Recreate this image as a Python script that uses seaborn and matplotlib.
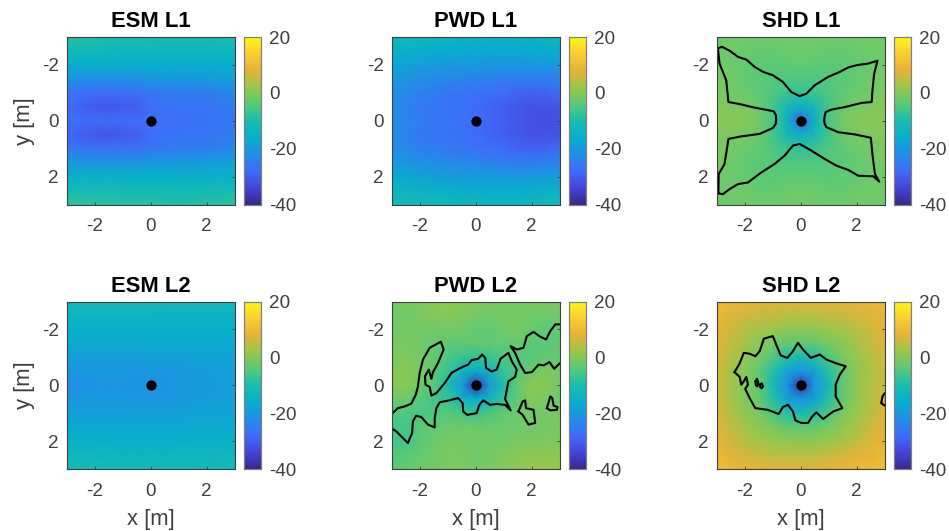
import matplotlib
matplotlib.use("Agg")
import matplotlib.pyplot as plt
import numpy as np
import seaborn as sns

# grid runs -3..3 m in 0.5 m steps, rows are y from -3 (top) to 3 (bottom)
grid_x = [-3, -2.5, -2, -1.5, -1, -0.5, 0, 0.5, 1, 1.5, 2, 2.5, 3]

esm_l1 = [
    [-9, -9, -9.5, -10, -10, -10, -10.5, -11, -11, -11, -11, -10.5, -10],
    [-12, -12, -12, -12.5, -13, -13, -13, -13, -13, -13, -13, -13, -13],
    [-16, -16, -16, -16, -16, -16, -16, -16, -16, -16, -16, -16, -16],
    [-21, -21.5, -21.5, -21.5, -21.5, -21, -20.5, -20, -20, -20, -19.5, -19, -19],
    [-26, -27, -28, -28, -27.5, -27, -26, -25.5, -25, -25, -25, -24, -23],
    [-28, -29.5, -30.5, -31, -30.5, -30, -28, -27, -26.5, -26.5, -26.5, -26, -25],
    [-27, -27.5, -27.5, -27.5, -27.5, -27.5, -27.5, -27.5, -27, -26.5, -26.5, -26, -26],
    [-28.5, -30, -31, -31.5, -30.5, -30, -28, -27, -26.5, -26.5, -26.5, -26, -25],
    [-25, -26, -27, -27, -27, -27, -26, -25.5, -25, -25, -24.5, -24, -23],
    [-20, -20.5, -20.5, -20.5, -20.5, -20.5, -20, -20, -19.5, -19.5, -19, -19, -19],
    [-15, -15, -15, -15, -15, -15.5, -15.5, -15.5, -15, -15, -15, -15, -15],
    [-11, -11, -11, -11, -11, -11.5, -11.5, -11.5, -11.5, -11.5, -11, -11, -11],
    [-8, -8, -8.5, -8.5, -9, -9, -9, -9.5, -9.5, -9.5, -9, -9, -8.5],
]

pwd_l1 = [
    [-12, -12.5, -13, -13, -13.5, -14, -14, -14, -14, -14, -14, -13.5, -13],
    [-14.5, -15, -15.5, -16, -16, -16.5, -17, -17, -17, -17, -16.5, -16, -16],
    [-18, -18, -19, -19, -20, -20, -20, -20.5, -20.5, -20.5, -20, -20, -19.5],
    [-20, -21, -22, -22.5, -23, -23.5, -24, -24, -24.5, -25, -25, -25, -24],
    [-22, -23, -24.5, -25, -26, -26.5, -27, -27.5, -28, -29, -29.5, -29, -28],
    [-22.5, -24, -25.5, -26, -26.5, -27, -28, -29, -30, -31, -32, -32, -31.5],
    [-22, -23.5, -25, -25.5, -26, -27, -28, -28.5, -29.5, -31, -32, -32.5, -32],
    [-22.5, -24, -25.5, -26, -26.5, -27, -28, -29, -30, -31, -32, -32, -31.5],
    [-22, -23, -24.5, -25, -25.5, -26, -27, -27.5, -28, -29, -29.5, -29, -28],
    [-20, -20.5, -21.5, -22, -23, -23, -23.5, -24, -24.5, -25, -25, -24.5, -24],
    [-17, -17, -18, -18.5, -19, -19.5, -20, -20, -20, -20, -19.5, -19, -19],
    [-13, -13.5, -14, -15, -15, -15.5, -16, -16, -16, -16, -15.5, -15, -15],
    [-11, -11.5, -12, -12, -12, -12.5, -13, -13, -13, -13, -12.5, -12, -12],
]

shd_l1 = [
    [-2, -2, -2, -2, -2, -2, -2, -2, -2, -2, -2, -2, -2],
    [-2, -2, -2.5, -3, -3, -2.5, -2, -2.5, -3, -3, -2.5, -2, -2],
    [-2, -2.5, -3, -3.5, -4, -3.5, -3, -3.5, -4, -3.5, -3, -2.5, -2],
    [-1, -2, -3, -4, -4.5, -5, -5, -5, -4.5, -4, -3, -2, -1],
    [-0.5, -1.5, -2.5, -3.5, -5, -6.5, -8, -6.5, -5, -3.5, -2.5, -1.5, -0.5],
    [0, -0.5, -1, -2.5, -6, -12, -14, -12, -6, -2.5, -1, -0.5, 0],
    [0.5, 0.5, 0, -1.5, -5.5, -14, -30, -14, -5.5, -1.5, 0, 0.5, 0.5],
    [0, -0.5, -1, -2.5, -6, -12, -14, -12, -6, -2.5, -1, -0.5, 0],
    [-0.5, -1.5, -2.5, -3.5, -5, -6.5, -8, -6.5, -5, -3.5, -2.5, -1.5, -0.5],
    [-1, -2, -3, -4, -4.5, -5, -5, -5, -4.5, -4, -3, -2, -1],
    [-2, -2.5, -3, -3.5, -4, -3.5, -3, -3.5, -4, -3.5, -3, -2.5, -2],
    [-2, -2, -2.5, -3, -3, -2.5, -2, -2.5, -3, -3, -2.5, -2, -2],
    [-2, -2, -2, -2, -2, -2, -2, -2, -2, -2, -2, -2, -2],
]

esm_l2 = [
    [-11.5, -11.5, -12, -12, -12, -12, -12, -12, -12, -12, -12, -12, -12],
    [-13.5, -13.5, -13.5, -13.5, -13.5, -13.5, -13.5, -14, -14, -14, -14, -14, -14],
    [-15.5, -15.5, -15.5, -15.5, -15.5, -15.5, -15.5, -15.5, -15.5, -15.5, -15.5, -15.5, -15.5],
    [-17, -17, -17, -17, -17, -17, -17, -17, -17, -17, -17, -17, -17],
    [-18.5, -19, -19, -19, -19, -19, -18.5, -18.5, -18.5, -18, -18, -18, -18],
    [-20.5, -20, -20, -20, -20, -20.5, -20.5, -20.5, -20, -19.5, -19, -19, -19],
    [-23, -21.5, -21, -21, -21, -21, -21, -21, -20.5, -20, -19.5, -19, -19],
    [-20.5, -20, -20, -20, -20, -20.5, -20.5, -20.5, -20, -19.5, -19, -19, -19],
    [-18.5, -19, -19, -19, -19, -19, -18.5, -18.5, -18.5, -18, -18, -18, -18],
    [-17, -17, -17, -17, -17, -17, -17, -17, -17, -17, -17, -17, -17],
    [-15, -15, -15, -15.5, -15.5, -15.5, -15.5, -15.5, -15.5, -15, -15, -15, -15],
    [-13, -13, -13, -13.5, -13.5, -13.5, -13.5, -13.5, -13.5, -13.5, -13.5, -13, -13],
    [-11, -11, -11.5, -11.5, -11.5, -11.5, -11.5, -11.5, -12, -12, -12, -11.5, -11.5],
]

pwd_l2 = [
    [-1, -1, -0.5, 0.5, 1.5, 0.5, -0.5, -1, -1, -1, -1, -1, -1],
    [-2, -2, -1, 0, 0, -0.5, -1.5, -2, -1.5, -1.5, -2, -2, -2],
    [-2, -1.5, -1.5, -2, -1.5, -2, -3, -3, -2, -1, -3, -3.5, -3],
    [-1, -1, -2, -3, -3.5, -3.5, -3, -3, -3, -3, -4, -4, -3.5],
    [-0.5, -0.5, -1.5, -3, -5, -7, -8, -7, -5, -5, -4, -3.5, -3],
    [0, 0.5, -1, -4, -7, -13, -16, -13, -7, -5, -2, -1, -1.5],
    [0.5, 0.5, -2, -4.5, -10, -20, -38, -20, -10, -3, 1, 0, -1.5],
    [-2, -2.5, -4.5, -6, -7.5, -13, -16, -13, -7, -3, 0, -1, -2],
    [-5, -5, -5.5, -5, -4, -6, -7, -5, -3.5, -2.5, -1.5, -1.5, -1.5],
    [-6, -6, -4, -3.5, -2.5, -2, -2, -2.5, -2, -2, -2, -1.5, -1.5],
    [-6, -6, -4, -2.5, -1.5, -1.5, -2, -2, -2, -1, -1, -0.5, -0.5],
    [-5, -4, -3, -2, -1, -1, -2, -1.5, -0.5, 0.5, 1, 1, 1],
    [-4, -3, -2, -1.5, -1, -1, -1.5, -1, 0, 1, 2, 2, 1.5],
]

shd_l2 = [
    [10, 9, 8.5, 8, 7.5, 7.5, 7.5, 7.5, 7.5, 8, 8.5, 9, 9.5],
    [9, 7.5, 6.5, 5.5, 5, 4.5, 4.5, 4.5, 5, 5.5, 6.5, 7.5, 8.5],
    [8, 6, 4, 3, 2, 1, 1, 1, 2, 3, 4.5, 6, 7.5],
    [7.5, 5, 3, 0.5, -1, -3, -3.5, -3, -1, 0.5, 3, 5, 7],
    [7, 4, 1, -1, -5, -9, -11, -9, -5, -1, 1.5, 4, 6.5],
    [6.5, 3, 0, -3, -9, -18, -21, -18, -9, -3, 1, 3.5, 6],
    [6, 3, 0, -3, -11, -21, -38, -21, -11, -3, 1, 4, 6],
    [6.5, 3, 0, -3, -9, -18, -21, -18, -9, -3, 1, 4, 6.5],
    [7, 4, 1, -1, -5, -9, -11, -9, -5, -1, 2, 4.5, 7],
    [7.5, 5, 3, 1, -1, -3, -3.5, -3, -1, 1, 3, 6, 7.5],
    [8.5, 6, 4, 3, 2, 1, 1, 1, 2, 3, 5, 7, 8.5],
    [9.5, 7.5, 6.5, 5.5, 4.5, 4.5, 4.5, 4.5, 5.5, 6.5, 7.5, 8.5, 10],
    [10, 9.5, 8.5, 8, 7.5, 7.5, 7.5, 7.5, 8, 8.5, 9.5, 10, 11],
]

# black contour lines, x and y in metres
shd_l1_lines = [
    ([-2.97, -2.83, -2.55, -2.25, -1.95, -1.65, -1.35, -1.0, -0.64, -0.34, -0.04, 0.2, 0.5, 0.98, 1.4, 1.7, 2.0, 2.42,
      2.75, 2.63, 2.57, 2.54, 2.18, 1.58, 1.1, 0.89, 0.85, 0.84, 0.86, 0.92, 1.34, 1.94, 2.51, 2.58, 2.66, 2.81, 2.6,
      2.06, 1.7, 1.28, 0.86, 0.38, -0.04, -0.28, -0.58, -0.94, -1.41, -1.89, -2.25, -2.55, -2.79, -2.95, -2.94, -2.73,
      -2.59, -2.13, -1.47, -1.0, -0.9, -0.88, -0.89, -0.97, -1.65, -2.25, -2.59, -2.67, -2.91, -2.97],
     [-2.59, -2.65, -2.51, -2.29, -2.19, -1.93, -1.75, -1.63, -1.39, -1.03, -0.88, -0.97, -1.27, -1.57, -1.75, -1.91,
      -1.99, -2.05, -2.15, -1.69, -1.09, -0.67, -0.64, -0.49, -0.4, -0.31, -0.13, 0.01, 0.12, 0.23, 0.41, 0.49, 0.61,
      1.31, 1.91, 2.18, 1.99, 1.97, 1.76, 1.61, 1.37, 1.07, 0.83, 0.89, 1.25, 1.55, 1.85, 2.21, 2.27, 2.45, 2.63, 2.6,
      1.91, 1.55, 0.65, 0.56, 0.47, 0.26, 0.12, -0.01, -0.2, -0.34, -0.47, -0.61, -0.67, -1.45, -2.05, -2.59]),
]

pwd_l2_lines = [
    ([-2.99, -2.79, -2.55, -2.31, -2.15, -2.07, -2.01, -1.89, -1.65, -1.25, -1.15, -1.35, -1.53, -1.59, -1.68, -1.82,
      -1.8, -1.65, -1.59, -1.41, -1.11, -0.87, -0.57, -0.27, -0.15, 0.09, 0.23, 0.34, 0.37, 0.57, 0.75, 0.89, 1.17,
      1.29, 1.47, 1.41, 1.17, 1.09, 1.05, 1.25, 1.05, 0.75, 0.51, 0.27, 0.13, 0.03, -0.31, -0.45, -0.47, -0.63, -0.99,
      -1.29, -1.41, -1.47, -1.47, -1.71, -1.95, -2.13, -2.25, -2.28, -2.43, -2.61, -2.85, -2.99],
     [1.01, 0.82, 0.76, 0.66, 0.34, 0.04, -0.44, -0.92, -1.34, -1.56, -1.28, -0.8, -0.47, -0.23, -0.56, -0.32, -0.02,
      0.06, 0.37, 0.28, -0.08, -0.44, -0.61, -0.74, -0.9, -0.95, -1.1, -0.98, -0.62, -0.49, -0.56, -0.95, -1.16, -0.86,
      -0.56, -0.3, -0.14, 0.28, 0.49, 0.9, 0.7, 0.67, 0.7, 0.54, 0.7, 1.0, 1.06, 0.94, 0.64, 0.46, 0.55, 0.61, 0.82,
      1.18, 1.51, 1.41, 1.14, 1.09, 1.29, 1.71, 2.07, 1.89, 1.65, 1.56]),
    ([3.0, 2.85, 2.67, 2.52, 2.31, 2.07, 1.83, 1.71, 1.47, 1.25, 1.41, 1.59, 1.77, 2.01, 2.25, 2.43, 2.64, 2.81, 3.0],
     [-2.18, -2.18, -1.94, -1.64, -1.74, -1.91, -1.76, -1.34, -1.28, -1.4, -1.16, -0.74, -0.44, -0.47, -0.74, -0.71,
      -0.83, -0.59, -0.78]),
    ([1.53, 1.68, 1.77, 1.8, 2.07, 2.13, 1.89, 1.68, 1.53], [0.94, 0.58, 0.54, 0.82, 0.88, 1.35, 1.41, 1.06, 0.94]),
    ([2.55, 2.67, 2.74, 2.79, 2.93, 2.91, 2.67, 2.55], [0.82, 0.4, 0.46, 0.73, 0.78, 0.88, 0.9, 0.82]),
]

shd_l2_lines = [
    ([-2.37, -2.19, -2.04, -1.83, -1.63, -1.47, -1.32, -1.0, -0.88, -0.72, -0.48, -0.28, -0.1, 0.08, 0.36, 0.68, 0.92,
      1.28, 1.61, 1.4, 1.25, 1.25, 1.49, 1.16, 0.8, 0.56, 0.41, 0.26, 0.02, -0.19, -0.28, -0.46, -0.64, -0.79, -1.18,
      -1.63, -1.83, -1.99, -1.89, -1.95, -2.04, -2.13, -2.19, -2.37],
     [-0.47, -0.78, -1.16, -1.13, -1.04, -1.22, -1.67, -1.76, -1.46, -1.07, -0.98, -1.22, -1.52, -1.28, -0.98, -1.1,
      -0.92, -0.78, -0.68, -0.38, -0.02, 0.4, 0.82, 0.94, 1.21, 0.97, 1.12, 1.35, 1.35, 1.26, 0.94, 0.7, 0.78, 1.03,
      0.88, 0.82, 0.46, 0.13, -0.02, -0.3, -0.14, -0.02, -0.3, -0.47]),
    ([-1.62, -1.57, -1.52, -1.55, -1.61, -1.62], [-0.14, -0.23, -0.11, 0.04, 0.0, -0.14]),
    ([-1.46, -1.4, -1.35, -1.4, -1.45, -1.46], [-0.02, -0.07, 0.04, 0.11, 0.07, -0.02]),
    ([3.0, 2.93, 2.88, 3.0], [0.3, 0.4, 0.64, 0.72]),
]

titles = ["ESM L1", "PWD L1", "SHD L1", "ESM L2", "PWD L2", "SHD L2"]
fields = [esm_l1, pwd_l1, shd_l1, esm_l2, pwd_l2, shd_l2]
lines = [[], [], shd_l1_lines, [], pwd_l2_lines, shd_l2_lines]
ticks = [-2, 0, 2]
cbar_ticks = [-40, -20, 0, 20]
source_x = [0]
source_y = [0]

# parula-like colormap, matched to the reference colorbar
parula = sns.blend_palette(
    [(0.21, 0.16, 0.55), (0.27, 0.27, 0.85), (0.25, 0.42, 0.98), (0.13, 0.56, 0.90),
     (0.03, 0.68, 0.80), (0.10, 0.74, 0.68), (0.35, 0.79, 0.47), (0.60, 0.78, 0.30),
     (0.90, 0.70, 0.22), (0.98, 0.80, 0.20), (0.98, 0.98, 0.08)],
    as_cmap=True,
)

plt.rcParams["font.family"] = ["Liberation Sans", "DejaVu Sans"]
plt.rcParams["axes.unicode_minus"] = False

W, H = 949, 531
fig = plt.figure(figsize=(W / 100, H / 100), dpi=100)

lefts = [67, 392, 717]
tops = [37, 301.5]
side = 167.5
gray = "#404040"


def to_index(values):
    # metres to heatmap cell index
    return (np.asarray(values) + 3) * 2


for i in range(6):
    left = lefts[i % 3]
    top = tops[i // 3]
    ax = fig.add_axes([left / W, 1 - (top + side) / H, side / W, side / H])
    cax = fig.add_axes([(left + 177) / W, 1 - (top + side) / H, 17 / W, side / H])

    sns.heatmap(np.array(fields[i]), ax=ax, cbar_ax=cax, cmap=parula, vmin=-40, vmax=20,
                shading="gouraud", cbar_kws={"ticks": cbar_ticks})

    for lx, ly in lines[i]:
        sns.lineplot(x=to_index(lx), y=to_index(ly), ax=ax, color="black", linewidth=1.5,
                     sort=False, estimator=None, legend=False, solid_joinstyle="round")
    sns.scatterplot(x=to_index(source_x), y=to_index(source_y), ax=ax, color="black", s=55,
                    linewidth=0, legend=False, zorder=5)

    ax.set_xlim(0, len(grid_x) - 1)
    ax.set_ylim(len(grid_x) - 1, 0)
    ax.set_xticks(to_index(ticks))
    ax.set_yticks(to_index(ticks))
    ax.set_xticklabels([str(t) for t in ticks], rotation=0)
    ax.set_yticklabels([str(t) for t in ticks], rotation=0, va="center_baseline")
    ax.yaxis.tick_right()
    ax.yaxis.set_label_position("left")
    ax.tick_params(axis="x", direction="in", length=2, width=0.6, color=gray, labelsize=13.6,
                   labelcolor=gray, pad=10)
    ax.tick_params(axis="y", direction="in", length=2, width=0.6, color=gray, labelsize=13.6,
                   labelcolor=gray, pad=6, right=True, left=False, labelright=False, labelleft=True)
    for spine in ax.spines.values():
        spine.set_visible(True)
        spine.set_color(gray)
        spine.set_linewidth(0.8)

    ax.set_title(titles[i], fontsize=15.8, fontweight="bold", color="black", pad=7)
    if i >= 3:
        ax.set_xlabel("x [m]", fontsize=15.8, color=gray, labelpad=6.5)
    if i % 3 == 0:
        ax.set_ylabel("y [m]", fontsize=15.8, color=gray, labelpad=5)

    cax.tick_params(length=0, labelsize=13.6, labelcolor=gray, pad=6)
    cax.set_yticklabels([str(t) for t in cbar_ticks])
    for spine in cax.spines.values():
        spine.set_visible(True)
        spine.set_color("#808080")
        spine.set_linewidth(0.8)

fig.savefig("out.png", dpi=100)
